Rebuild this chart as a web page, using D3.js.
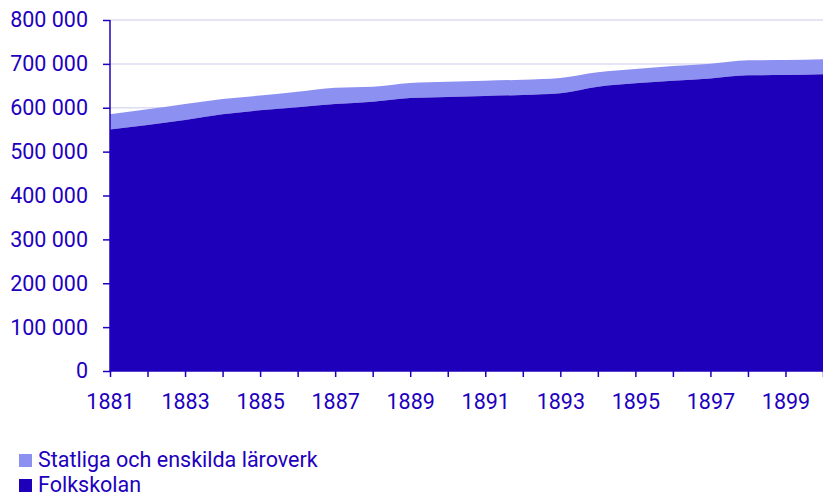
<!DOCTYPE html>
<html>
<head>
<meta charset="utf-8">
<script src="https://cdn.jsdelivr.net/npm/d3@7"></script>
<style>
  html, body { margin: 0; padding: 0; background: #fff; }
  svg { display: block; font-family: Roboto, "Noto Sans", sans-serif; }
</style>
</head>
<body>
<svg id="chart" width="823" height="497"></svg>
<script>
const years = [1881,1882,1883,1884,1885,1886,1887,1888,1889,1890,1891,1892,1893,1894,1895,1896,1897,1898,1899,1900];
const folkskolan = [550400,560700,572100,585100,594200,601000,608500,613800,622200,624500,626800,629100,632900,648000,655700,661700,666700,674000,674600,676200];
const statliga = [34700,35800,36400,34900,33700,35600,37200,34200,34200,34900,34900,34800,34900,32800,32600,33500,33700,34100,34200,34200];
const yTicks = [0,100000,200000,300000,400000,500000,600000,700000,800000];
const xTickLabels = [1881,1883,1885,1887,1889,1891,1893,1895,1897,1899];
const seriesNames = ["Statliga och enskilda läroverk", "Folkskolan"];

const textColor = "#1e00be";
const darkColor = "#1e00bb";
const lightColor = "#8c90f0";
const gridColor = "#dcdcf2";
const fontSize = 21.5;

const svg = d3.select("#chart");
const mLeft = 110, mRight = 823, mTop = 20, mBottom = 371;

const x = d3.scaleLinear().domain([1881, 1900]).range([mLeft, mRight]);
const y = d3.scaleLinear().domain([0, 800000]).range([mBottom, mTop]);

const fmt = d3.formatLocale({decimal: ",", thousands: " ", grouping: [3], currency: ["", " kr"]}).format(",");

// gridlines
svg.append("g").selectAll("line").data(yTicks.filter(d => d > 0)).join("line")
  .attr("x1", mLeft).attr("x2", mRight)
  .attr("y1", d => y(d)).attr("y2", d => y(d))
  .attr("stroke", gridColor).attr("stroke-width", 1.5);

const rows = years.map((yr, i) => ({year: yr, folk: folkskolan[i], stat: statliga[i]}));
const stacked = d3.stack().keys(["folk", "stat"])(rows);

const area = d3.area()
  .x(d => x(d.data.year))
  .y0(d => y(d[0]))
  .y1(d => y(d[1]))
  .curve(d3.curveMonotoneX);

svg.append("path").datum(stacked[1]).attr("d", area).attr("fill", lightColor);
svg.append("path").datum(stacked[0]).attr("d", area).attr("fill", darkColor);

// y axis
const yAxis = svg.append("g").attr("transform", `translate(${mLeft},0)`)
  .call(d3.axisLeft(y).tickValues(yTicks).tickFormat(fmt).tickSize(7).tickPadding(15));
yAxis.select(".domain").attr("stroke", textColor).attr("stroke-width", 1.5).attr("d", `M0,${mTop}V${mBottom}`);
yAxis.selectAll(".tick line").attr("stroke", textColor).attr("stroke-width", 1.5);
yAxis.selectAll("text").attr("fill", textColor).attr("font-size", fontSize).attr("font-family", "Roboto");

// x axis
const xAxis = svg.append("g").attr("transform", `translate(0,${mBottom})`)
  .call(d3.axisBottom(x).tickValues(years).tickSize(6).tickPadding(17)
    .tickFormat(d => xTickLabels.includes(d) ? String(d) : ""));
xAxis.select(".domain").attr("stroke", textColor).attr("stroke-width", 1.5).attr("d", `M${mLeft},0H${mRight}`);
xAxis.selectAll(".tick line").attr("stroke", textColor).attr("stroke-width", 1.5);
xAxis.selectAll("text").attr("fill", textColor).attr("font-size", fontSize).attr("font-family", "Roboto");

// legend
const legend = svg.append("g");
const legendColors = [lightColor, darkColor];
seriesNames.forEach((name, i) => {
  const base = 467 + i * 25;
  legend.append("rect").attr("x", 19).attr("y", base - 13).attr("width", 13).attr("height", 13).attr("fill", legendColors[i]);
  legend.append("text").attr("x", 38).attr("y", base).attr("fill", textColor)
    .attr("font-size", fontSize).attr("font-family", "Roboto").text(name);
});
</script>
</body>
</html>
